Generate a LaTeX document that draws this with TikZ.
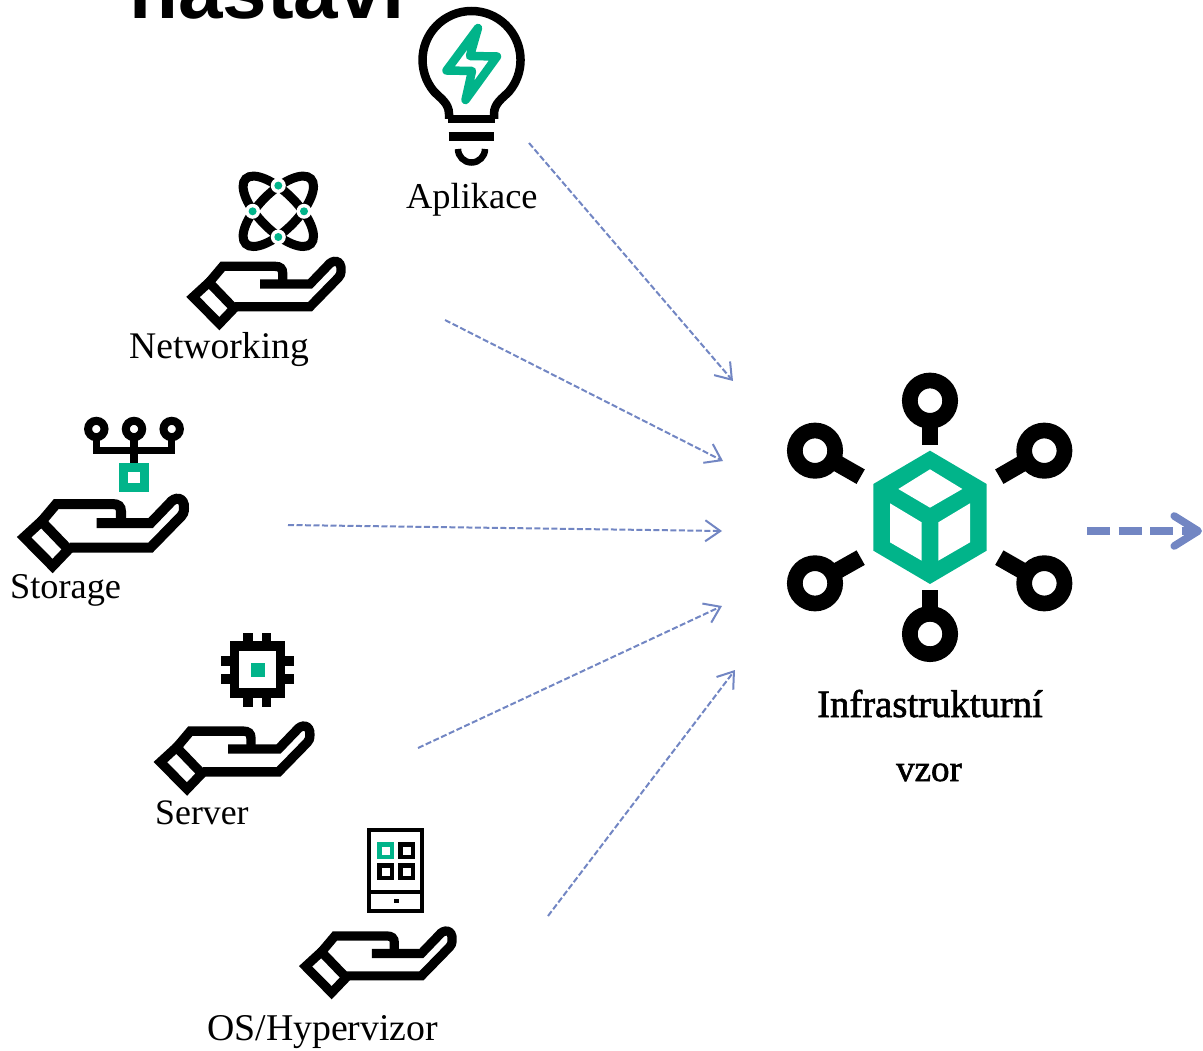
\documentclass[tikz,border=0pt]{standalone}
\usepackage{fontspec}
\setmainfont{Liberation Serif}
\newfontfamily\titlefont{Liberation Sans}
\newfontfamily\fakeboldfont[FakeBold=1.6]{Liberation Serif}
\usetikzlibrary{arrows.meta}
\definecolor{hpegreen}{HTML}{01B48A}
\definecolor{flowblue}{HTML}{7286C3}
\tikzset{
  lbl/.style={anchor=base west,inner sep=0pt,font=\fontsize{#1}{44}\selectfont},
  lblb/.style={anchor=base,inner sep=0pt,font=\fontsize{#1}{44}\selectfont\fakeboldfont},
  flow/.style={draw=flowblue,line width=2pt,dash pattern=on 6pt off 2.5pt,
    -{Straight Barb[length=15pt,width=21pt,line width=2pt]}},
  bigflow/.style={draw=flowblue,line width=7.6pt,dash pattern=on 23pt off 8.5pt,
    -{Straight Barb[round,length=24pt,width=30pt,line width=7.6pt]}},
}
\newcommand{\handicon}[3]{%
  \begin{scope}[shift={(#1,#2)},scale=#3/3,shift={(-200,-771)}]
    \draw[line width=#3*9.3pt,line join=miter]
      (219,891) -- (267,847) -- (342,925) -- (298,971) -- cycle;
    \draw[line width=#3*9.3pt,line join=miter]
      (265,850) -- (308,799) -- (465,799) .. controls (480,799) and (488,805) .. (488,820) -- (488,852);
    \draw[line width=#3*9.3pt,line join=miter]
      (420,852) -- (570,852) -- (622,798) .. controls (638,776) and (665,780) .. (663,810)
      .. controls (663,822) and (660,828) .. (655,833) -- (570,920) -- (345,920);
  \end{scope}}
\begin{document}
\begin{tikzpicture}[x=1pt,y=-1pt]
\useasboundingbox (0,0) rectangle (1203,1051);
\clip (0,0) rectangle (1203,1051);
% title (cut by the top edge)
\node[anchor=base west,inner sep=0pt,font=\fontsize{80}{82}\selectfont\titlefont\bfseries] (title) at (129,19) {nastavi};

% bulb
\draw[line width=8.5pt,line cap=butt] (449,119) -- (449,114) .. controls (449,103) and (440,98) .. (434,91.5)
   arc[start angle=220,end angle=-40,radius=49pt]
   .. controls (503,98) and (494,103) .. (494,114) -- (494,119);
\draw[line width=8.5pt] (448,119) -- (495,119);
\draw[line width=8.5pt] (448.5,136.5) -- (494,136.5);
\draw[line width=6.5pt] (458,149) arc[start angle=180,end angle=360,radius=13.5pt];
\draw[draw=hpegreen,line width=8.5pt,line join=round]
   (478,28) -- (446.5,70.5) -- (472,71) -- (465.5,100) -- (497,56.5) -- (470,56) -- cycle;
\node[lbl=36.4] (aplikace) at (406,209) {Aplikace};

% atom
\begin{scope}[shift={(278.3,211.3)}]
  \draw[line width=9pt,rotate=45] (0,0) ellipse[x radius=46,y radius=19];
  \draw[line width=9pt,rotate=-45] (0,0) ellipse[x radius=46,y radius=19];
  \foreach \px/\py in {0/-25.7,0/25.7,-25.7/0,25.7/0}{
    \fill[white] (\px,\py) circle[radius=7.5pt];
    \fill[hpegreen] (\px,\py) circle[radius=4pt];
  }
\end{scope}
\handicon{186.7}{257}{1}
\node[lbl=37.6] (networking) at (129,358) {Networking};

% storage
\foreach \cx in {96.3,134,171.7}{\draw[line width=8pt] (\cx,429) circle[radius=8.2pt];}
\draw[line width=7.5pt,line join=miter] (96.3,437) -- (96.3,450.7) -- (171.7,450.7) -- (171.7,437);
\draw[line width=7.5pt] (134,437) -- (134,464);
\fill[hpegreen] (119.3,463.3) rectangle (149,491.7);
\fill[white] (128.3,471.7) rectangle (140,483.3);
\handicon{17.3}{494}{1.08}
\node[lbl=36.3] (storage) at (10,598) {Storage};

% server
\draw[line width=9.3pt] (234.7,646) rectangle (280.6,693);
\fill (243.3,633.3) rectangle (252.7,642);
\fill (261.7,633.3) rectangle (271,642);
\fill (243.3,697) rectangle (252.7,706.7);
\fill (261.7,697) rectangle (271,706.7);
\fill (221,656) rectangle (231,665.7);
\fill (221,674.3) rectangle (231,684);
\fill (284,656) rectangle (294.3,665.7);
\fill (284,674.3) rectangle (294.3,684);
\fill[hpegreen] (250.7,663.3) rectangle (265,676.7);
\handicon{154}{721.7}{1.01}
\node[lbl=35.8] (server) at (155,824) {Server};

% tablet
\draw[line width=3.8pt] (369.3,830) rectangle (422.3,911);
\draw[line width=3.8pt] (369.3,891.7) -- (422.3,891.7);
\fill (394,898.7) rectangle (399,903.3);
\draw[line width=4.5pt] (400.5,844.5) rectangle (413,857);
\draw[line width=4.5pt] (379.5,865.5) rectangle (392,878);
\draw[line width=4.5pt] (400.5,865.5) rectangle (413,878);
\draw[draw=hpegreen,line width=4.5pt] (379.5,844.5) rectangle (392,857);
\handicon{299.3}{926.7}{0.99}
\node[lbl=37.8] (os) at (207,1040) {OS/Hypervizor};

% central cube
\begin{scope}[shift={(770,360)},scale=1/3]
  \fill[hpegreen] (480,272) -- (650,372) -- (650,572) -- (480,672) -- (310,572) -- (310,372) -- cycle;
  \fill[white] (480,328) -- (577,387) -- (480,443) -- (385,387) -- cycle;
  \fill[white] (360,430) -- (455,487) -- (455,602) -- (360,547) -- cycle;
  \fill[white] (600,430) -- (505,487) -- (505,602) -- (600,547) -- cycle;
  \foreach \cx/\cy/\ex/\ey in {480/122/480/255, 480/822/480/690, 135/272/272/350,
      823/272/688/350, 135/670/272/593, 823/670/688/593}{
    \draw[line width=16.7pt] (\cx,\cy) -- (\ex,\ey);
    \fill[white] (\cx,\cy) circle[radius=62];
    \draw[line width=15.7pt] (\cx,\cy) circle[radius=60.5];
  }
\end{scope}
\node[lblb=38.7] (infra) at (930,717) {Infrastrukturní};
\node[lblb=37] (vzor) at (929,781) {vzor};

% connectors
\coordinate (a1) at (529,143);  \coordinate (a2) at (733,381);
\coordinate (b1) at (445,320);  \coordinate (b2) at (723,461);
\coordinate (c1) at (288,525);  \coordinate (c2) at (722,531);
\coordinate (d1) at (418,748);  \coordinate (d2) at (722,606);
\coordinate (e1) at (548,916);  \coordinate (e2) at (735,670);
\coordinate (f1) at (1087,531); \coordinate (f2) at (1202,531);
\draw[flow] (a1) -- (a2);
\draw[flow] (b1) -- (b2);
\draw[flow] (c1) -- (c2);
\draw[flow] (d1) -- (d2);
\draw[flow] (e1) -- (e2);
\draw[bigflow] (f1) -- (f2);
\end{tikzpicture}
\end{document}
